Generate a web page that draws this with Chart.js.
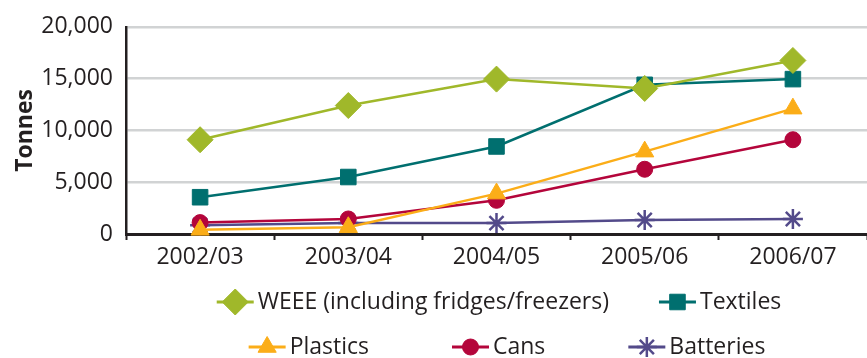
<!DOCTYPE html>
<html>
<head>
<meta charset="utf-8">
<script src="https://cdn.jsdelivr.net/npm/chart.js@4/dist/chart.umd.min.js"></script>
<style>
  html, body { margin: 0; padding: 0; background: #fff; }
</style>
</head>
<body>
<canvas id="chart" width="867" height="358"></canvas>
<script>
// дані
const years = ["2002/03", "2003/04", "2004/05", "2005/06", "2006/07"];
const weee = [9100, 12400, 14950, 14050, 16750];
const textiles = [3550, 5500, 8450, 14400, 14950];
const plastics = [400, 650, 3900, 7950, 12100];
const cans = [1100, 1450, 3250, 6250, 9100];
const batteries = [850, 1050, 1050, 1350, 1450];
const yTicks = [0, 5000, 10000, 15000, 20000];
const legendRows = [[0, 1], [2, 3, 4]];

const textColor = "#231f20";
const fontFamily = '"Open Sans", sans-serif';
Chart.defaults.font.family = fontFamily;
Chart.defaults.color = textColor;

function series(label, data, color, style, radius) {
  return {
    label: label,
    data: data,
    borderColor: color,
    backgroundColor: color,
    borderWidth: 2.5,
    pointStyle: style,
    pointRadius: radius,
    pointHoverRadius: radius,
    pointBorderWidth: style === "star" ? 2.5 : 1,
    pointBackgroundColor: color,
    pointBorderColor: color,
    tension: 0,
    clip: false,
  };
}

// легенда: лінія з маркером посередині
const lineLegend = {
  id: "lineLegend",
  afterDraw(chart) {
    const ctx = chart.ctx;
    const rowY = [302, 347];
    const rowCenter = [499, 507];
    const rowGap = [50, 83];
    const lineLen = 37;
    ctx.save();
    ctx.font = "23px " + fontFamily;
    ctx.textBaseline = "middle";
    ctx.textAlign = "left";
    legendRows.forEach((row, r) => {
      const widths = row.map(
        (i) => lineLen + 4 + ctx.measureText(chart.data.datasets[i].label).width
      );
      const total = widths.reduce((a, b) => a + b, 0) + rowGap[r] * (row.length - 1);
      let x = rowCenter[r] - total / 2;
      const y = rowY[r];
      row.forEach((i, k) => {
        const ds = chart.data.datasets[i];
        ctx.strokeStyle = ds.borderColor;
        ctx.fillStyle = ds.borderColor;
        ctx.lineWidth = 3;
        ctx.beginPath();
        ctx.moveTo(x, y);
        ctx.lineTo(x + lineLen, y);
        ctx.stroke();
        ctx.lineWidth = ds.pointBorderWidth;
        Chart.helpers.drawPoint(
          ctx,
          { pointStyle: ds.pointStyle, radius: ds.pointRadius, borderWidth: ds.pointBorderWidth, rotation: 0 },
          x + lineLen / 2,
          y
        );
        ctx.fillStyle = textColor;
        ctx.fillText(ds.label, x + lineLen + 4, y);
        x += widths[k] + rowGap[r];
      });
    });
    ctx.restore();
  },
};

new Chart(document.getElementById("chart").getContext("2d"), {
  type: "line",
  data: {
    labels: years,
    datasets: [
      series("WEEE (including fridges/freezers)", weee, "#a0b82a", "rectRot", 13),
      series("Textiles", textiles, "#006f6f", "rect", 11),
      series("Plastics", plastics, "#fbad18", "triangle", 10.5),
      series("Cans", cans, "#b4053b", "circle", 8),
      series("Batteries", batteries, "#534a8a", "star", 10),
    ],
  },
  options: {
    responsive: false,
    animation: false,
    events: [],
    layout: { autoPadding: false, padding: { top: 23, right: 0, bottom: 90, left: 0 } },
    plugins: {
      legend: { display: false },
      tooltip: { enabled: false },
    },
    scales: {
      x: {
        offset: true,
        grid: {
          offset: true,
          drawOnChartArea: false,
          drawTicks: true,
          tickLength: 6,
          tickColor: textColor,
          tickWidth: 2,
        },
        border: { display: true, color: textColor, width: 3 },
        ticks: { font: { size: 23 }, padding: 4, maxRotation: 0 },
        afterFit(scale) {
          scale.height = 34;
        },
      },
      y: {
        min: 0,
        max: 20000,
        afterBuildTicks(scale) {
          scale.ticks = yTicks.map((v) => ({ value: v }));
        },
        grid: { color: "#d1d3d4", lineWidth: 2.5, drawTicks: false },
        border: { display: true, color: textColor, width: 2.5 },
        ticks: {
          font: { size: 23 },
          padding: 13,
          callback: (v) => v.toLocaleString("en-US"),
        },
        title: {
          display: true,
          text: "Tonnes",
          font: { size: 23, weight: "bold" },
          padding: { top: 12, bottom: 0 },
        },
        afterFit(scale) {
          scale.width = 126;
        },
      },
    },
  },
  plugins: [lineLegend],
});
</script>
</body>
</html>
